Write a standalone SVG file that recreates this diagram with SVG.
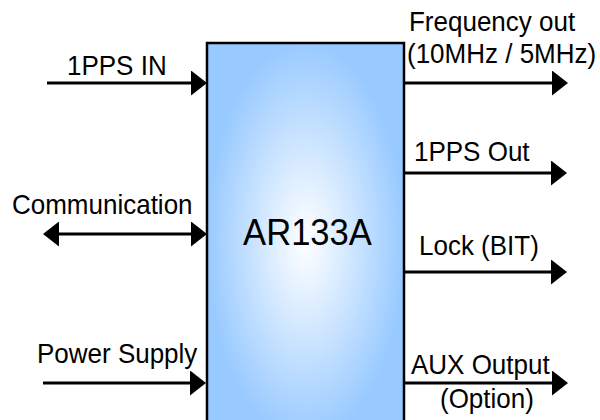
<svg xmlns="http://www.w3.org/2000/svg" width="600" height="420" viewBox="0 0 600 420">
  <style>
    .lbl { font-family: "Liberation Sans", Arial, sans-serif; font-size: 26px; fill: #000; }
    .title { font-family: "Liberation Sans", Arial, sans-serif; font-size: 34.6px; fill: #000; text-anchor: middle; }
    .wire { stroke: #000; stroke-width: 3; fill: none; }
  </style>
  <defs>
    <radialGradient id="boxGrad" cx="0.5" cy="0.5" r="0.5">
      <stop offset="0" stop-color="#ffffff"/>
      <stop offset="0.35" stop-color="#dcedff"/>
      <stop offset="1" stop-color="#99caff"/>
    </radialGradient>
    <marker id="head" viewBox="0 0 16 25" markerUnits="userSpaceOnUse" markerWidth="16" markerHeight="25" refX="8" refY="12.5" orient="auto-start-reverse">
      <path d="M0,0 L16,12.5 L0,25 Z" fill="#000"/>
    </marker>
  </defs>
  <rect width="600" height="420" fill="#fff"/>

  <g id="node-ar133a">
    <rect x="207" y="43" width="197" height="396" fill="url(#boxGrad)" stroke="#000" stroke-width="2.5"/>
    <g transform="translate(307.5,245) scale(1,1.08)"><text class="title" x="0" y="0">AR133A</text></g>
  </g>

  <g id="connectors">
    <line class="wire" x1="47" y1="83" x2="199" y2="83" marker-end="url(#head)"/>
    <line class="wire" x1="51" y1="234" x2="199" y2="234" marker-start="url(#head)" marker-end="url(#head)"/>
    <line class="wire" x1="43" y1="383" x2="198" y2="383" marker-end="url(#head)"/>
    <line class="wire" x1="405" y1="83" x2="560" y2="83" marker-end="url(#head)"/>
    <line class="wire" x1="405" y1="173" x2="559" y2="173" marker-end="url(#head)"/>
    <line class="wire" x1="405" y1="272" x2="559" y2="272" marker-end="url(#head)"/>
    <line class="wire" x1="405" y1="383" x2="560" y2="383" marker-end="url(#head)"/>
  </g>

  <g id="labels">
    <g transform="translate(67,75) scale(1,1.08)"><text class="lbl">1PPS IN</text></g>
    <g transform="translate(12,214) scale(1,1.08)"><text class="lbl">Communication</text></g>
    <g transform="translate(37,363) scale(1,1.08)"><text class="lbl">Power Supply</text></g>
    <g transform="translate(409,31) scale(1,1.08)"><text class="lbl">Frequency out</text></g>
    <g transform="translate(407,63) scale(1,1.08)"><text class="lbl">(10MHz / 5MHz)</text></g>
    <g transform="translate(414,161) scale(1,1.08)"><text class="lbl">1PPS Out</text></g>
    <g transform="translate(419,255) scale(1,1.08)"><text class="lbl">Lock (BIT)</text></g>
    <g transform="translate(411,374) scale(1,1.08)"><text class="lbl">AUX Output</text></g>
    <g transform="translate(440,408) scale(1,1.08)"><text class="lbl">(Option)</text></g>
  </g>
</svg>
